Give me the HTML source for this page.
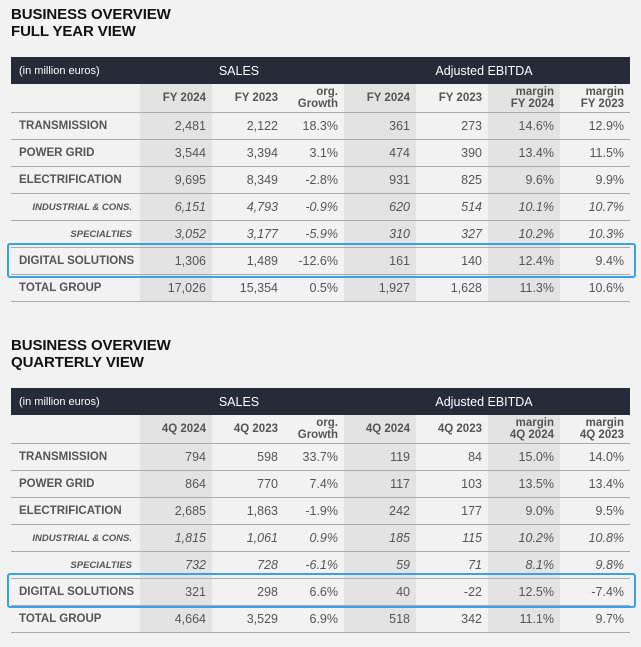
<!DOCTYPE html>
<html><head><meta charset="utf-8"><style>
body{margin:0;width:641px;height:647px;background:#f2f2f2;font-family:"Liberation Sans",sans-serif;position:relative;overflow:hidden}
.t{position:absolute;left:11px;font-weight:bold;font-size:15px;line-height:17px;color:#111;letter-spacing:-0.1px}
table{position:absolute;left:11px;border-collapse:collapse;table-layout:fixed;width:619px;color:#555;font-size:12.5px}
td{padding:0 6px 0 0;text-align:right;height:26px;border-bottom:1px solid #aaa;white-space:nowrap}
td:first-child{text-align:left;padding-left:8px;font-weight:bold;font-size:11.5px}
tr.h td{background:#262b3a;color:#fff;font-size:11px;height:27px;border:none;font-weight:normal}
tr.h td.c{text-align:center;font-size:12.5px}
tr.s td{font-weight:bold;font-size:11.5px;line-height:12px;height:28px}
.g{background:#e3e3e3}
tr.i td{font-style:italic}
tr.i td:first-child{text-align:right;font-size:9.5px;padding-right:8px}
.box{position:absolute;left:7px;width:625px;height:31px;border:2px solid #3aa0e8;border-radius:3px}
</style></head><body>
<div class="t" style="top:6px">BUSINESS OVERVIEW<br>FULL YEAR VIEW</div>
<table style="top:57px">
<colgroup><col style="width:129px"><col style="width:72px"><col style="width:72px"><col style="width:60px"><col style="width:72px"><col style="width:72px"><col style="width:72px"><col style="width:70px"></colgroup>
<tr class="h"><td>(in million euros)</td><td colspan="3" class="c">SALES</td><td colspan="4" class="c">Adjusted EBITDA</td></tr>
<tr class="s"><td></td><td class="g">FY 2024</td><td>FY 2023</td><td>org.<br>Growth</td><td class="g">FY 2024</td><td>FY 2023</td><td class="g">margin<br>FY 2024</td><td>margin<br>FY 2023</td></tr>
<tr><td>TRANSMISSION</td><td class="g">2,481</td><td>2,122</td><td>18.3%</td><td class="g">361</td><td>273</td><td class="g">14.6%</td><td>12.9%</td></tr>
<tr><td>POWER GRID</td><td class="g">3,544</td><td>3,394</td><td>3.1%</td><td class="g">474</td><td>390</td><td class="g">13.4%</td><td>11.5%</td></tr>
<tr><td>ELECTRIFICATION</td><td class="g">9,695</td><td>8,349</td><td>-2.8%</td><td class="g">931</td><td>825</td><td class="g">9.6%</td><td>9.9%</td></tr>
<tr class="i"><td>INDUSTRIAL &amp; CONS.</td><td class="g">6,151</td><td>4,793</td><td>-0.9%</td><td class="g">620</td><td>514</td><td class="g">10.1%</td><td>10.7%</td></tr>
<tr class="i"><td>SPECIALTIES</td><td class="g">3,052</td><td>3,177</td><td>-5.9%</td><td class="g">310</td><td>327</td><td class="g">10.2%</td><td>10.3%</td></tr>
<tr><td>DIGITAL SOLUTIONS</td><td class="g">1,306</td><td>1,489</td><td>-12.6%</td><td class="g">161</td><td>140</td><td class="g">12.4%</td><td>9.4%</td></tr>
<tr><td>TOTAL GROUP</td><td class="g">17,026</td><td>15,354</td><td>0.5%</td><td class="g">1,927</td><td>1,628</td><td class="g">11.3%</td><td>10.6%</td></tr>
</table>
<div class="box" style="top:243px"></div>

<div class="t" style="top:337px">BUSINESS OVERVIEW<br>QUARTERLY VIEW</div>
<table style="top:388px">
<colgroup><col style="width:129px"><col style="width:72px"><col style="width:72px"><col style="width:60px"><col style="width:72px"><col style="width:72px"><col style="width:72px"><col style="width:70px"></colgroup>
<tr class="h"><td>(in million euros)</td><td colspan="3" class="c">SALES</td><td colspan="4" class="c">Adjusted EBITDA</td></tr>
<tr class="s"><td></td><td class="g">4Q 2024</td><td>4Q 2023</td><td>org.<br>Growth</td><td class="g">4Q 2024</td><td>4Q 2023</td><td class="g">margin<br>4Q 2024</td><td>margin<br>4Q 2023</td></tr>
<tr><td>TRANSMISSION</td><td class="g">794</td><td>598</td><td>33.7%</td><td class="g">119</td><td>84</td><td class="g">15.0%</td><td>14.0%</td></tr>
<tr><td>POWER GRID</td><td class="g">864</td><td>770</td><td>7.4%</td><td class="g">117</td><td>103</td><td class="g">13.5%</td><td>13.4%</td></tr>
<tr><td>ELECTRIFICATION</td><td class="g">2,685</td><td>1,863</td><td>-1.9%</td><td class="g">242</td><td>177</td><td class="g">9.0%</td><td>9.5%</td></tr>
<tr class="i"><td>INDUSTRIAL &amp; CONS.</td><td class="g">1,815</td><td>1,061</td><td>0.9%</td><td class="g">185</td><td>115</td><td class="g">10.2%</td><td>10.8%</td></tr>
<tr class="i"><td>SPECIALTIES</td><td class="g">732</td><td>728</td><td>-6.1%</td><td class="g">59</td><td>71</td><td class="g">8.1%</td><td>9.8%</td></tr>
<tr><td>DIGITAL SOLUTIONS</td><td class="g">321</td><td>298</td><td>6.6%</td><td class="g">40</td><td>-22</td><td class="g">12.5%</td><td>-7.4%</td></tr>
<tr><td>TOTAL GROUP</td><td class="g">4,664</td><td>3,529</td><td>6.9%</td><td class="g">518</td><td>342</td><td class="g">11.1%</td><td>9.7%</td></tr>
</table>
<div class="box" style="top:573px"></div>
</body></html>
